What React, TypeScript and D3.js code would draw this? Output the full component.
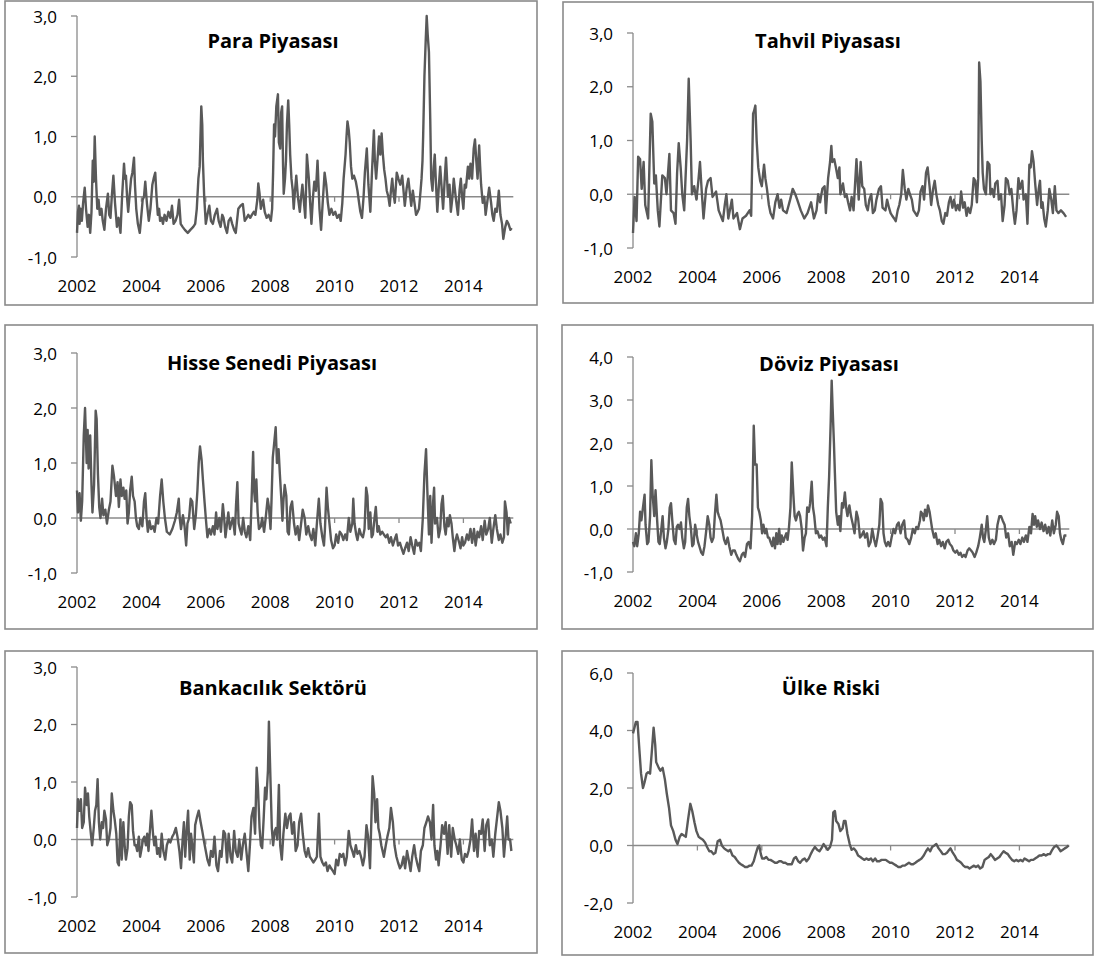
import React from 'react';
import * as d3 from 'd3';

type Pt = [number, number];

const yearTicks = [2002, 2004, 2006, 2008, 2010, 2012, 2014];

const paraPiyasasi: Pt[] = [[2002.00,-0.60],[2002.03,-0.25],[2002.06,-0.15],[2002.08,-0.45],[2002.11,-0.20],[2002.15,-0.40],[2002.19,-0.10],[2002.24,0.15],[2002.28,-0.20],[2002.33,-0.50],[2002.37,-0.30],[2002.41,-0.60],[2002.45,-0.25],[2002.49,0.60],[2002.52,0.25],[2002.55,1.00],[2002.59,0.30],[2002.63,-0.20],[2002.67,-0.05],[2002.71,-0.30],[2002.76,-0.20],[2002.80,-0.40],[2002.85,-0.55],[2002.90,-0.20],[2002.96,0.05],[2003.00,-0.30],[2003.04,-0.35],[2003.08,0.00],[2003.13,0.35],[2003.18,-0.10],[2003.24,-0.50],[2003.29,-0.35],[2003.35,-0.60],[2003.40,0.00],[2003.46,0.55],[2003.49,0.30],[2003.52,0.35],[2003.56,-0.05],[2003.59,-0.25],[2003.63,0.00],[2003.68,0.30],[2003.72,0.40],[2003.77,0.65],[2003.80,0.20],[2003.84,-0.20],[2003.89,-0.45],[2003.95,-0.60],[2004.00,-0.30],[2004.04,-0.05],[2004.08,0.00],[2004.12,0.25],[2004.17,-0.10],[2004.23,-0.40],[2004.28,-0.20],[2004.34,0.20],[2004.38,0.30],[2004.43,0.40],[2004.47,0.00],[2004.51,-0.30],[2004.55,-0.20],[2004.58,-0.40],[2004.63,-0.35],[2004.67,-0.45],[2004.72,-0.30],[2004.78,-0.40],[2004.84,-0.25],[2004.90,-0.35],[2004.95,-0.15],[2005.00,-0.45],[2005.06,-0.40],[2005.12,-0.30],[2005.17,-0.05],[2005.22,-0.45],[2005.28,-0.50],[2005.35,-0.55],[2005.44,-0.60],[2005.52,-0.55],[2005.61,-0.50],[2005.67,-0.45],[2005.72,-0.20],[2005.77,0.30],[2005.81,0.50],[2005.86,1.50],[2005.89,1.20],[2005.91,0.60],[2005.95,0.00],[2006.00,-0.45],[2006.05,-0.30],[2006.11,-0.15],[2006.16,-0.40],[2006.22,-0.45],[2006.28,-0.30],[2006.35,-0.20],[2006.40,-0.40],[2006.46,-0.50],[2006.51,-0.30],[2006.55,-0.35],[2006.60,-0.50],[2006.66,-0.60],[2006.71,-0.40],[2006.77,-0.35],[2006.82,-0.45],[2006.88,-0.55],[2006.93,-0.60],[2007.01,-0.20],[2007.08,-0.15],[2007.15,-0.12],[2007.21,-0.40],[2007.27,-0.35],[2007.32,-0.30],[2007.38,-0.35],[2007.43,-0.30],[2007.49,-0.25],[2007.54,-0.30],[2007.60,-0.05],[2007.63,0.22],[2007.67,0.05],[2007.71,-0.20],[2007.75,-0.10],[2007.78,-0.05],[2007.83,-0.25],[2007.89,-0.35],[2007.95,-0.30],[2008.02,-0.40],[2008.06,-0.20],[2008.09,0.40],[2008.12,1.20],[2008.15,1.00],[2008.19,1.50],[2008.24,1.70],[2008.27,0.90],[2008.31,0.80],[2008.34,1.40],[2008.37,1.50],[2008.40,0.50],[2008.42,0.05],[2008.46,0.30],[2008.49,0.60],[2008.52,1.20],[2008.56,1.60],[2008.59,1.20],[2008.62,0.70],[2008.66,0.30],[2008.70,0.10],[2008.73,-0.20],[2008.77,0.10],[2008.81,0.35],[2008.86,0.00],[2008.92,-0.25],[2008.96,0.00],[2009.00,0.20],[2009.05,-0.10],[2009.09,-0.35],[2009.14,0.70],[2009.17,0.50],[2009.20,0.30],[2009.24,-0.10],[2009.28,-0.45],[2009.33,0.00],[2009.37,0.25],[2009.42,0.10],[2009.47,0.60],[2009.53,-0.20],[2009.58,-0.55],[2009.63,-0.10],[2009.69,0.40],[2009.74,0.20],[2009.79,-0.10],[2009.84,-0.30],[2009.90,-0.20],[2009.96,-0.30],[2010.02,-0.25],[2010.08,-0.35],[2010.14,-0.30],[2010.19,-0.40],[2010.24,-0.10],[2010.28,0.30],[2010.34,0.70],[2010.37,1.00],[2010.40,1.25],[2010.44,1.10],[2010.47,0.90],[2010.51,0.50],[2010.55,0.30],[2010.60,0.35],[2010.66,0.25],[2010.71,0.10],[2010.76,-0.10],[2010.80,-0.25],[2010.85,-0.35],[2010.90,0.00],[2010.94,0.40],[2011.00,0.80],[2011.05,0.20],[2011.11,-0.25],[2011.16,0.40],[2011.22,1.10],[2011.25,0.60],[2011.29,0.30],[2011.33,0.60],[2011.38,1.00],[2011.42,0.70],[2011.46,1.05],[2011.50,0.70],[2011.54,0.45],[2011.58,0.30],[2011.62,0.10],[2011.67,0.00],[2011.71,-0.15],[2011.75,0.10],[2011.79,0.30],[2011.83,0.05],[2011.87,-0.10],[2011.93,0.40],[2011.98,0.30],[2012.04,0.20],[2012.10,0.35],[2012.14,0.10],[2012.18,-0.15],[2012.24,0.15],[2012.29,0.30],[2012.33,0.10],[2012.38,-0.15],[2012.43,0.10],[2012.48,-0.10],[2012.53,-0.30],[2012.58,-0.25],[2012.62,-0.20],[2012.67,0.10],[2012.70,0.30],[2012.73,0.60],[2012.75,1.00],[2012.79,2.00],[2012.83,2.60],[2012.86,3.00],[2012.89,2.70],[2012.93,2.40],[2012.97,1.30],[2013.00,0.30],[2013.04,0.10],[2013.08,0.50],[2013.11,0.70],[2013.15,0.20],[2013.19,-0.25],[2013.24,0.20],[2013.28,0.50],[2013.33,0.10],[2013.37,-0.20],[2013.42,0.30],[2013.46,0.65],[2013.52,0.00],[2013.57,0.20],[2013.61,-0.25],[2013.66,0.00],[2013.70,0.30],[2013.76,0.00],[2013.83,-0.30],[2013.88,0.10],[2013.92,0.30],[2013.96,0.00],[2014.00,-0.20],[2014.04,0.20],[2014.08,0.15],[2014.14,0.50],[2014.18,0.30],[2014.22,0.55],[2014.27,0.30],[2014.32,0.80],[2014.36,0.95],[2014.40,0.60],[2014.44,0.30],[2014.49,0.85],[2014.52,0.50],[2014.55,0.20],[2014.60,-0.10],[2014.65,0.00],[2014.69,-0.30],[2014.75,-0.05],[2014.80,0.15],[2014.86,-0.10],[2014.90,-0.30],[2014.94,-0.40],[2014.99,-0.20],[2015.04,-0.25],[2015.10,0.10],[2015.15,-0.30],[2015.20,-0.45],[2015.24,-0.70],[2015.30,-0.50],[2015.35,-0.40],[2015.40,-0.45],[2015.46,-0.55],[2015.50,-0.52]];

const tahvilPiyasasi: Pt[] = [[2002.00,-0.72],[2002.05,-0.05],[2002.11,-0.50],[2002.16,0.70],[2002.22,0.65],[2002.27,0.10],[2002.33,0.60],[2002.38,-0.20],[2002.47,-0.45],[2002.55,1.50],[2002.60,1.35],[2002.66,0.20],[2002.71,0.35],[2002.77,-0.30],[2002.82,-0.60],[2002.91,0.35],[2002.99,0.30],[2003.04,0.00],[2003.13,0.75],[2003.18,-0.30],[2003.26,-0.35],[2003.32,-0.55],[2003.37,0.40],[2003.42,0.95],[2003.48,0.50],[2003.53,0.00],[2003.59,-0.30],[2003.68,1.00],[2003.73,2.15],[2003.79,1.00],[2003.83,0.00],[2003.90,0.15],[2003.97,-0.10],[2004.03,0.25],[2004.08,0.60],[2004.14,0.00],[2004.19,-0.45],[2004.27,0.10],[2004.33,0.25],[2004.41,0.30],[2004.47,-0.05],[2004.58,0.05],[2004.66,-0.30],[2004.79,-0.50],[2004.85,-0.20],[2004.90,0.00],[2004.96,-0.45],[2005.07,-0.10],[2005.12,-0.45],[2005.23,-0.35],[2005.32,-0.65],[2005.40,-0.45],[2005.51,-0.40],[2005.62,-0.30],[2005.67,-0.40],[2005.73,1.50],[2005.76,1.55],[2005.80,1.65],[2005.84,1.00],[2005.89,0.50],[2005.95,0.25],[2006.00,0.15],[2006.07,0.55],[2006.11,0.30],[2006.16,0.10],[2006.22,-0.20],[2006.27,-0.35],[2006.35,-0.45],[2006.42,-0.15],[2006.49,0.00],[2006.55,-0.25],[2006.60,-0.10],[2006.66,-0.30],[2006.77,-0.35],[2006.88,-0.10],[2006.96,0.10],[2007.04,0.00],[2007.10,-0.10],[2007.21,-0.30],[2007.32,-0.45],[2007.42,-0.35],[2007.53,-0.15],[2007.62,-0.45],[2007.70,-0.30],[2007.75,0.00],[2007.81,-0.15],[2007.88,0.10],[2007.95,0.15],[2007.99,-0.35],[2008.06,0.30],[2008.12,0.60],[2008.16,0.90],[2008.19,0.60],[2008.25,0.65],[2008.30,0.50],[2008.36,0.30],[2008.41,0.50],[2008.44,0.00],[2008.52,0.20],[2008.58,-0.05],[2008.63,0.00],[2008.68,-0.15],[2008.74,-0.30],[2008.79,-0.05],[2008.85,-0.30],[2008.94,0.65],[2008.98,0.20],[2009.01,-0.10],[2009.07,0.60],[2009.12,0.15],[2009.18,0.10],[2009.23,-0.20],[2009.29,-0.30],[2009.34,-0.10],[2009.40,0.00],[2009.45,-0.35],[2009.51,-0.30],[2009.56,-0.10],[2009.64,0.10],[2009.70,0.15],[2009.75,-0.25],[2009.84,-0.30],[2009.89,-0.10],[2009.95,-0.25],[2010.00,-0.35],[2010.05,-0.40],[2010.11,-0.45],[2010.16,-0.50],[2010.22,-0.30],[2010.27,-0.20],[2010.33,0.00],[2010.38,0.45],[2010.44,0.10],[2010.49,-0.10],[2010.55,0.10],[2010.60,0.00],[2010.66,-0.10],[2010.71,-0.30],[2010.82,-0.40],[2010.88,-0.30],[2010.93,0.05],[2010.99,0.15],[2011.04,-0.10],[2011.10,0.40],[2011.15,0.50],[2011.21,0.15],[2011.26,-0.20],[2011.32,0.10],[2011.37,0.25],[2011.42,0.00],[2011.48,-0.20],[2011.53,-0.30],[2011.59,-0.50],[2011.64,-0.55],[2011.70,-0.35],[2011.75,-0.40],[2011.81,-0.15],[2011.86,-0.05],[2011.92,-0.25],[2011.97,-0.10],[2012.03,-0.30],[2012.08,-0.20],[2012.14,-0.30],[2012.19,0.05],[2012.25,-0.25],[2012.30,-0.15],[2012.36,-0.40],[2012.41,-0.25],[2012.47,-0.35],[2012.52,-0.20],[2012.58,0.30],[2012.63,0.25],[2012.68,-0.15],[2012.72,0.30],[2012.75,2.45],[2012.79,2.10],[2012.83,1.00],[2012.86,0.40],[2012.90,0.10],[2012.96,0.00],[2013.01,0.60],[2013.07,0.55],[2013.10,0.00],[2013.15,0.10],[2013.21,-0.05],[2013.25,0.20],[2013.32,0.25],[2013.36,-0.10],[2013.43,0.00],[2013.48,-0.50],[2013.54,-0.20],[2013.58,0.30],[2013.64,0.25],[2013.70,0.00],[2013.75,0.10],[2013.81,-0.30],[2013.86,-0.55],[2013.91,-0.30],[2013.97,0.30],[2014.02,0.10],[2014.09,0.25],[2014.13,-0.10],[2014.20,0.00],[2014.25,-0.55],[2014.31,0.55],[2014.35,0.50],[2014.39,0.80],[2014.44,0.60],[2014.49,0.20],[2014.55,-0.20],[2014.60,0.10],[2014.64,0.25],[2014.68,-0.25],[2014.72,-0.15],[2014.77,-0.45],[2014.82,-0.60],[2014.88,-0.30],[2014.93,0.10],[2014.99,-0.10],[2015.04,-0.35],[2015.10,0.15],[2015.15,-0.30],[2015.21,-0.35],[2015.29,-0.30],[2015.37,-0.35],[2015.45,-0.42]];

const hisseSenedi: Pt[] = [[2002.00,0.50],[2002.03,0.10],[2002.08,0.45],[2002.12,-0.05],[2002.16,0.30],[2002.21,1.50],[2002.25,2.00],[2002.30,1.00],[2002.33,1.60],[2002.36,0.90],[2002.41,1.50],[2002.45,0.60],[2002.48,0.10],[2002.53,0.60],[2002.56,1.40],[2002.58,1.95],[2002.61,1.80],[2002.65,0.80],[2002.69,0.20],[2002.73,0.00],[2002.78,0.35],[2002.82,0.05],[2002.88,0.15],[2002.93,-0.10],[2002.99,0.15],[2003.04,0.30],[2003.10,0.95],[2003.15,0.75],[2003.21,0.40],[2003.26,0.65],[2003.30,0.20],[2003.35,0.70],[2003.39,0.40],[2003.44,0.55],[2003.48,0.35],[2003.53,0.50],[2003.57,-0.10],[2003.61,0.10],[2003.65,0.50],[2003.70,0.75],[2003.74,0.40],[2003.79,0.30],[2003.83,0.00],[2003.87,-0.15],[2003.92,-0.20],[2003.97,0.00],[2004.03,-0.15],[2004.08,0.30],[2004.12,0.45],[2004.16,0.00],[2004.20,-0.25],[2004.25,-0.05],[2004.30,-0.20],[2004.36,-0.15],[2004.41,-0.25],[2004.47,0.00],[2004.52,-0.10],[2004.58,0.40],[2004.63,0.70],[2004.68,0.30],[2004.73,0.00],[2004.79,-0.25],[2004.88,-0.30],[2004.96,-0.20],[2005.04,-0.05],[2005.10,0.10],[2005.16,0.35],[2005.19,0.00],[2005.23,-0.20],[2005.29,0.05],[2005.34,-0.15],[2005.39,-0.50],[2005.43,-0.10],[2005.48,0.00],[2005.53,0.35],[2005.58,0.30],[2005.64,-0.20],[2005.69,0.05],[2005.74,0.50],[2005.78,1.00],[2005.82,1.30],[2005.87,1.05],[2005.91,0.70],[2005.96,0.30],[2006.00,0.00],[2006.05,-0.35],[2006.11,-0.20],[2006.16,-0.30],[2006.22,-0.15],[2006.27,-0.30],[2006.32,0.10],[2006.36,-0.20],[2006.42,0.00],[2006.47,-0.25],[2006.53,0.25],[2006.57,0.00],[2006.61,-0.35],[2006.66,-0.10],[2006.70,0.10],[2006.75,-0.20],[2006.79,-0.10],[2006.84,0.00],[2006.90,-0.30],[2006.94,0.25],[2006.98,0.65],[2007.02,-0.10],[2007.06,-0.20],[2007.11,-0.30],[2007.16,0.00],[2007.21,-0.25],[2007.26,-0.35],[2007.32,-0.15],[2007.38,-0.40],[2007.42,0.30],[2007.47,1.20],[2007.50,0.50],[2007.53,0.30],[2007.57,0.70],[2007.61,0.10],[2007.65,-0.20],[2007.71,-0.15],[2007.75,0.00],[2007.81,-0.25],[2007.86,0.00],[2007.92,0.35],[2007.96,0.20],[2008.01,-0.20],[2008.04,0.30],[2008.08,1.10],[2008.13,1.40],[2008.17,1.65],[2008.21,1.00],[2008.26,1.25],[2008.30,0.80],[2008.35,0.30],[2008.38,-0.05],[2008.41,0.30],[2008.45,0.60],[2008.50,0.40],[2008.54,-0.25],[2008.58,-0.30],[2008.63,0.20],[2008.68,0.30],[2008.74,-0.10],[2008.79,-0.30],[2008.85,-0.15],[2008.90,-0.40],[2008.96,-0.10],[2009.01,0.15],[2009.07,0.00],[2009.12,-0.30],[2009.18,-0.15],[2009.23,-0.30],[2009.29,-0.40],[2009.34,-0.20],[2009.40,-0.50],[2009.45,-0.10],[2009.51,0.35],[2009.56,-0.10],[2009.62,-0.35],[2009.67,-0.50],[2009.70,-0.20],[2009.75,0.55],[2009.79,0.20],[2009.84,-0.10],[2009.89,-0.40],[2009.95,-0.55],[2010.00,-0.50],[2010.05,-0.30],[2010.11,-0.45],[2010.16,-0.25],[2010.22,-0.30],[2010.27,-0.40],[2010.33,-0.30],[2010.38,-0.40],[2010.44,0.00],[2010.49,-0.25],[2010.55,-0.10],[2010.58,0.35],[2010.62,-0.10],[2010.67,-0.30],[2010.71,-0.40],[2010.77,-0.20],[2010.82,-0.30],[2010.88,-0.35],[2010.93,-0.20],[2010.98,0.55],[2011.02,0.40],[2011.06,-0.20],[2011.11,0.10],[2011.15,-0.35],[2011.19,-0.30],[2011.24,0.00],[2011.28,0.20],[2011.33,-0.25],[2011.37,-0.15],[2011.42,-0.30],[2011.48,-0.25],[2011.53,-0.30],[2011.59,-0.35],[2011.64,-0.30],[2011.70,-0.45],[2011.75,-0.35],[2011.81,-0.50],[2011.86,-0.40],[2011.92,-0.30],[2011.97,-0.50],[2012.03,-0.45],[2012.08,-0.55],[2012.14,-0.65],[2012.19,-0.55],[2012.25,-0.45],[2012.30,-0.60],[2012.36,-0.35],[2012.41,-0.50],[2012.47,-0.65],[2012.52,-0.40],[2012.58,-0.50],[2012.63,-0.45],[2012.68,-0.60],[2012.74,0.00],[2012.79,0.80],[2012.84,1.25],[2012.88,0.50],[2012.93,-0.30],[2012.97,0.40],[2013.01,-0.45],[2013.06,0.30],[2013.09,0.55],[2013.12,-0.10],[2013.18,0.00],[2013.23,-0.35],[2013.28,-0.20],[2013.32,0.25],[2013.36,0.40],[2013.41,-0.15],[2013.45,-0.30],[2013.50,0.00],[2013.54,-0.15],[2013.58,0.05],[2013.63,-0.10],[2013.67,-0.35],[2013.72,-0.60],[2013.76,-0.40],[2013.80,-0.30],[2013.87,-0.45],[2013.91,-0.55],[2013.96,-0.35],[2014.00,-0.50],[2014.05,-0.45],[2014.11,-0.30],[2014.16,-0.40],[2014.22,-0.20],[2014.27,-0.45],[2014.33,-0.20],[2014.38,-0.50],[2014.44,-0.25],[2014.49,-0.35],[2014.55,-0.15],[2014.60,-0.40],[2014.66,-0.05],[2014.71,-0.30],[2014.77,-0.20],[2014.82,0.00],[2014.88,-0.45],[2014.93,-0.20],[2014.99,0.05],[2015.04,-0.20],[2015.10,-0.40],[2015.15,-0.30],[2015.21,-0.45],[2015.26,-0.35],[2015.29,0.30],[2015.34,0.10],[2015.38,-0.30],[2015.42,0.00],[2015.47,-0.10]];

const dovizPiyasasi: Pt[] = [[2002.00,-0.30],[2002.04,-0.40],[2002.09,-0.10],[2002.13,-0.40],[2002.18,-0.10],[2002.22,0.40],[2002.26,0.20],[2002.31,0.50],[2002.36,0.80],[2002.39,0.10],[2002.44,-0.35],[2002.48,-0.30],[2002.53,0.30],[2002.57,1.60],[2002.61,0.80],[2002.66,0.30],[2002.70,0.90],[2002.75,0.20],[2002.79,-0.30],[2002.83,-0.35],[2002.88,0.00],[2002.92,0.30],[2002.96,-0.20],[2003.01,-0.45],[2003.05,-0.30],[2003.10,0.00],[2003.14,0.50],[2003.18,0.60],[2003.23,0.10],[2003.27,-0.25],[2003.32,-0.35],[2003.36,0.05],[2003.40,0.10],[2003.45,0.00],[2003.49,0.15],[2003.53,-0.20],[2003.58,-0.45],[2003.62,-0.30],[2003.67,0.50],[2003.71,0.70],[2003.75,0.30],[2003.80,0.00],[2003.84,-0.40],[2003.88,-0.35],[2003.93,0.10],[2003.97,-0.10],[2004.02,-0.30],[2004.06,-0.40],[2004.12,-0.55],[2004.17,-0.60],[2004.22,-0.40],[2004.28,0.00],[2004.32,0.30],[2004.37,0.10],[2004.41,-0.20],[2004.45,-0.30],[2004.50,-0.20],[2004.54,0.30],[2004.59,0.80],[2004.63,0.40],[2004.67,0.30],[2004.72,0.20],[2004.77,0.00],[2004.83,-0.25],[2004.88,-0.35],[2004.94,-0.20],[2004.99,-0.40],[2005.05,-0.60],[2005.10,-0.50],[2005.16,-0.50],[2005.21,-0.60],[2005.27,-0.70],[2005.32,-0.75],[2005.38,-0.60],[2005.43,-0.55],[2005.48,-0.65],[2005.54,-0.35],[2005.59,-0.30],[2005.65,-0.45],[2005.70,0.30],[2005.75,2.40],[2005.79,1.50],[2005.84,1.50],[2005.88,0.50],[2005.92,0.40],[2005.97,0.20],[2006.01,-0.10],[2006.05,0.10],[2006.10,-0.10],[2006.14,0.00],[2006.19,-0.20],[2006.23,-0.20],[2006.27,-0.30],[2006.32,-0.40],[2006.36,-0.20],[2006.41,-0.45],[2006.45,-0.10],[2006.49,-0.35],[2006.54,0.00],[2006.58,-0.35],[2006.62,-0.15],[2006.67,-0.30],[2006.71,-0.20],[2006.76,-0.10],[2006.80,-0.25],[2006.84,0.00],[2006.89,0.50],[2006.93,1.55],[2006.98,0.80],[2007.02,0.30],[2007.06,0.20],[2007.11,0.35],[2007.15,0.40],[2007.19,0.30],[2007.24,0.00],[2007.28,-0.50],[2007.33,-0.20],[2007.37,-0.10],[2007.41,0.50],[2007.46,0.40],[2007.50,0.60],[2007.55,1.10],[2007.59,0.50],[2007.63,0.30],[2007.68,-0.10],[2007.73,-0.05],[2007.79,-0.20],[2007.84,-0.15],[2007.90,-0.25],[2007.95,-0.20],[2008.01,-0.40],[2008.05,0.50],[2008.09,1.20],[2008.14,2.50],[2008.17,3.45],[2008.20,2.80],[2008.24,2.00],[2008.27,1.30],[2008.31,0.40],[2008.36,0.10],[2008.40,0.30],[2008.44,-0.05],[2008.49,0.60],[2008.53,0.50],[2008.58,0.85],[2008.62,0.50],[2008.66,0.30],[2008.72,0.55],[2008.77,0.30],[2008.83,0.10],[2008.88,-0.10],[2008.94,0.40],[2008.99,0.25],[2009.05,-0.20],[2009.10,-0.15],[2009.16,-0.05],[2009.21,-0.20],[2009.27,-0.10],[2009.32,-0.40],[2009.38,-0.30],[2009.43,0.00],[2009.49,-0.25],[2009.54,-0.40],[2009.59,-0.20],[2009.65,0.10],[2009.69,0.70],[2009.74,0.60],[2009.78,-0.10],[2009.82,-0.30],[2009.87,-0.40],[2009.92,-0.30],[2009.98,-0.40],[2010.03,-0.20],[2010.09,0.00],[2010.14,-0.10],[2010.20,0.10],[2010.25,0.15],[2010.31,-0.10],[2010.36,0.10],[2010.42,0.20],[2010.47,-0.20],[2010.53,-0.25],[2010.58,-0.35],[2010.64,-0.20],[2010.69,0.00],[2010.75,-0.10],[2010.80,0.05],[2010.85,0.00],[2010.91,0.20],[2010.94,0.40],[2010.99,0.35],[2011.03,0.20],[2011.07,0.45],[2011.12,0.30],[2011.16,0.55],[2011.21,0.40],[2011.25,0.20],[2011.29,0.00],[2011.35,-0.20],[2011.40,-0.10],[2011.46,-0.35],[2011.51,-0.25],[2011.57,-0.40],[2011.62,-0.30],[2011.68,-0.45],[2011.73,-0.30],[2011.79,-0.25],[2011.84,-0.35],[2011.90,-0.40],[2011.95,-0.50],[2012.01,-0.55],[2012.06,-0.50],[2012.12,-0.60],[2012.17,-0.55],[2012.22,-0.65],[2012.28,-0.60],[2012.33,-0.65],[2012.39,-0.50],[2012.44,-0.45],[2012.50,-0.50],[2012.55,-0.55],[2012.61,-0.65],[2012.66,-0.55],[2012.72,-0.40],[2012.77,-0.20],[2012.83,0.10],[2012.87,-0.20],[2012.91,-0.30],[2012.96,0.00],[2013.00,0.30],[2013.05,-0.20],[2013.10,-0.35],[2013.16,-0.25],[2013.21,-0.35],[2013.27,-0.25],[2013.32,0.10],[2013.38,0.30],[2013.43,0.30],[2013.48,0.20],[2013.54,0.10],[2013.59,-0.20],[2013.65,-0.10],[2013.70,-0.40],[2013.76,-0.30],[2013.81,-0.60],[2013.87,-0.30],[2013.92,-0.35],[2013.98,-0.25],[2014.03,-0.35],[2014.09,-0.20],[2014.14,-0.30],[2014.20,-0.15],[2014.25,-0.30],[2014.31,0.05],[2014.36,-0.10],[2014.41,0.35],[2014.45,0.10],[2014.49,0.30],[2014.54,0.05],[2014.58,0.20],[2014.64,0.00],[2014.69,0.15],[2014.75,-0.05],[2014.80,0.10],[2014.86,-0.10],[2014.91,0.05],[2014.96,-0.15],[2015.02,0.20],[2015.07,-0.10],[2015.13,0.10],[2015.17,0.40],[2015.22,0.30],[2015.26,-0.10],[2015.30,-0.25],[2015.35,-0.35],[2015.40,-0.15],[2015.46,-0.15]];

const bankacilikSektoru: Pt[] = [[2002.00,0.20],[2002.03,0.70],[2002.08,0.50],[2002.12,0.70],[2002.16,0.20],[2002.21,0.30],[2002.25,0.90],[2002.30,0.60],[2002.34,0.80],[2002.38,0.40],[2002.43,0.10],[2002.47,-0.10],[2002.52,0.20],[2002.56,0.50],[2002.60,0.60],[2002.64,1.05],[2002.68,0.30],[2002.72,0.00],[2002.77,0.30],[2002.81,0.20],[2002.85,0.50],[2002.90,0.35],[2002.94,-0.10],[2002.99,0.00],[2003.04,0.20],[2003.08,0.80],[2003.13,0.50],[2003.17,0.35],[2003.22,0.10],[2003.26,-0.40],[2003.30,-0.45],[2003.35,0.35],[2003.39,-0.35],[2003.44,0.30],[2003.48,-0.10],[2003.52,-0.35],[2003.57,-0.15],[2003.61,0.40],[2003.65,0.65],[2003.70,0.60],[2003.74,0.15],[2003.79,-0.10],[2003.83,-0.10],[2003.87,-0.20],[2003.92,0.05],[2003.96,-0.30],[2004.01,-0.15],[2004.05,0.00],[2004.09,0.05],[2004.14,-0.10],[2004.18,0.10],[2004.22,-0.20],[2004.27,0.20],[2004.31,0.50],[2004.36,0.10],[2004.40,-0.10],[2004.44,0.05],[2004.49,-0.25],[2004.53,-0.15],[2004.58,-0.30],[2004.63,0.10],[2004.68,-0.20],[2004.74,-0.35],[2004.79,-0.10],[2004.85,0.00],[2004.90,-0.05],[2004.96,0.05],[2005.01,0.10],[2005.07,0.20],[2005.12,0.05],[2005.18,-0.20],[2005.23,-0.50],[2005.28,0.00],[2005.32,0.30],[2005.36,-0.30],[2005.41,0.20],[2005.45,0.50],[2005.50,-0.35],[2005.54,0.10],[2005.58,-0.10],[2005.63,-0.40],[2005.67,0.25],[2005.73,0.40],[2005.78,0.50],[2005.84,0.30],[2005.89,0.15],[2005.95,-0.05],[2006.00,-0.20],[2006.05,-0.35],[2006.11,-0.45],[2006.16,-0.20],[2006.22,-0.30],[2006.27,0.05],[2006.33,-0.45],[2006.38,-0.55],[2006.44,-0.20],[2006.49,-0.30],[2006.55,0.15],[2006.60,0.10],[2006.66,-0.40],[2006.71,0.10],[2006.77,-0.30],[2006.82,-0.40],[2006.88,0.15],[2006.93,-0.20],[2006.99,-0.30],[2007.04,0.00],[2007.10,-0.35],[2007.15,-0.10],[2007.21,0.10],[2007.26,-0.20],[2007.32,-0.55],[2007.37,-0.10],[2007.42,0.40],[2007.48,0.55],[2007.53,0.10],[2007.58,1.25],[2007.62,0.90],[2007.67,0.20],[2007.71,-0.10],[2007.75,-0.15],[2007.80,0.40],[2007.84,0.90],[2007.88,0.70],[2007.93,1.20],[2007.96,2.05],[2008.01,1.00],[2008.05,0.20],[2008.09,-0.10],[2008.14,0.15],[2008.18,0.20],[2008.22,0.00],[2008.27,0.95],[2008.31,-0.10],[2008.36,-0.35],[2008.41,0.10],[2008.47,0.45],[2008.52,0.20],[2008.58,0.40],[2008.63,0.45],[2008.68,0.10],[2008.74,0.30],[2008.79,-0.20],[2008.85,-0.10],[2008.90,0.30],[2008.96,0.45],[2009.01,0.10],[2009.07,-0.20],[2009.12,-0.30],[2009.18,-0.15],[2009.23,-0.30],[2009.29,-0.35],[2009.34,-0.40],[2009.40,-0.35],[2009.45,-0.30],[2009.51,0.45],[2009.56,-0.30],[2009.62,-0.40],[2009.67,-0.45],[2009.73,-0.40],[2009.78,-0.55],[2009.84,-0.45],[2009.89,-0.50],[2009.95,-0.55],[2010.00,-0.60],[2010.05,-0.35],[2010.11,-0.45],[2010.16,-0.25],[2010.22,-0.30],[2010.27,-0.25],[2010.33,-0.45],[2010.38,-0.30],[2010.44,0.15],[2010.49,-0.10],[2010.55,-0.20],[2010.60,-0.30],[2010.66,-0.10],[2010.71,-0.25],[2010.77,-0.20],[2010.82,-0.30],[2010.88,-0.45],[2010.93,-0.30],[2010.99,0.25],[2011.04,0.05],[2011.10,-0.50],[2011.14,0.30],[2011.18,1.10],[2011.23,0.80],[2011.27,0.30],[2011.32,0.70],[2011.36,0.20],[2011.40,0.10],[2011.45,-0.10],[2011.49,-0.20],[2011.53,-0.30],[2011.59,-0.10],[2011.64,0.05],[2011.70,0.20],[2011.75,0.55],[2011.81,0.30],[2011.86,-0.10],[2011.92,-0.30],[2011.97,-0.40],[2012.03,-0.50],[2012.08,-0.45],[2012.14,-0.30],[2012.19,-0.50],[2012.25,-0.20],[2012.30,-0.35],[2012.36,-0.55],[2012.41,-0.30],[2012.47,-0.10],[2012.52,-0.30],[2012.58,-0.45],[2012.63,-0.55],[2012.68,-0.20],[2012.74,-0.10],[2012.79,0.20],[2012.85,0.30],[2012.90,0.40],[2012.96,0.30],[2013.01,0.00],[2013.06,0.60],[2013.10,-0.10],[2013.15,-0.35],[2013.19,-0.20],[2013.23,-0.45],[2013.29,-0.10],[2013.34,0.25],[2013.40,0.10],[2013.45,0.30],[2013.51,-0.25],[2013.56,0.25],[2013.62,-0.30],[2013.67,0.20],[2013.73,0.00],[2013.78,-0.10],[2013.84,-0.25],[2013.89,0.00],[2013.95,-0.35],[2014.00,-0.40],[2014.05,-0.25],[2014.11,-0.30],[2014.16,-0.20],[2014.22,0.00],[2014.27,0.35],[2014.33,-0.20],[2014.38,0.10],[2014.44,-0.30],[2014.49,0.15],[2014.55,0.10],[2014.60,0.35],[2014.66,-0.20],[2014.71,0.25],[2014.77,0.35],[2014.82,-0.10],[2014.88,0.00],[2014.93,-0.30],[2014.99,0.10],[2015.04,0.35],[2015.10,0.65],[2015.15,0.50],[2015.21,0.20],[2015.26,-0.30],[2015.32,0.10],[2015.36,0.40],[2015.40,0.00],[2015.45,0.00],[2015.49,-0.20]];

const ulkeRiski: Pt[] = [[2002.00,3.90],[2002.09,4.30],[2002.14,4.30],[2002.20,3.30],[2002.25,2.50],[2002.31,2.00],[2002.36,2.20],[2002.42,2.50],[2002.47,2.55],[2002.53,2.50],[2002.58,3.20],[2002.64,4.10],[2002.69,3.50],[2002.72,2.90],[2002.80,2.70],[2002.85,2.60],[2002.92,2.70],[2002.99,2.30],[2003.05,1.80],[2003.12,1.30],[2003.18,0.70],[2003.25,0.50],[2003.32,0.20],[2003.38,0.05],[2003.45,0.30],[2003.51,0.40],[2003.58,0.35],[2003.64,0.30],[2003.71,0.90],[2003.78,1.45],[2003.84,1.20],[2003.91,0.80],[2003.97,0.50],[2004.04,0.30],[2004.10,0.25],[2004.17,0.20],[2004.24,0.10],[2004.30,-0.05],[2004.37,-0.20],[2004.43,-0.20],[2004.50,-0.30],[2004.56,-0.25],[2004.63,0.15],[2004.70,0.20],[2004.76,0.00],[2004.83,-0.10],[2004.89,-0.15],[2004.96,-0.20],[2005.02,-0.15],[2005.09,-0.35],[2005.16,-0.40],[2005.22,-0.50],[2005.29,-0.60],[2005.35,-0.65],[2005.42,-0.70],[2005.48,-0.75],[2005.55,-0.75],[2005.62,-0.70],[2005.68,-0.70],[2005.75,-0.55],[2005.81,-0.30],[2005.88,-0.05],[2005.92,0.00],[2005.97,-0.30],[2006.01,-0.45],[2006.08,-0.45],[2006.14,-0.40],[2006.21,-0.50],[2006.27,-0.50],[2006.34,-0.55],[2006.41,-0.60],[2006.47,-0.60],[2006.54,-0.55],[2006.60,-0.55],[2006.67,-0.60],[2006.73,-0.60],[2006.80,-0.65],[2006.87,-0.65],[2006.93,-0.65],[2007.00,-0.45],[2007.06,-0.40],[2007.13,-0.55],[2007.19,-0.60],[2007.26,-0.50],[2007.33,-0.45],[2007.39,-0.55],[2007.46,-0.45],[2007.52,-0.30],[2007.59,-0.15],[2007.65,-0.05],[2007.72,-0.15],[2007.79,-0.20],[2007.85,-0.10],[2007.92,0.05],[2007.98,-0.05],[2008.05,-0.15],[2008.12,-0.05],[2008.18,0.20],[2008.22,1.15],[2008.27,1.20],[2008.31,0.85],[2008.38,0.75],[2008.44,0.50],[2008.51,0.60],[2008.55,0.85],[2008.60,0.85],[2008.66,0.40],[2008.73,0.05],[2008.79,-0.15],[2008.86,-0.10],[2008.93,-0.20],[2008.99,-0.35],[2009.06,-0.40],[2009.12,-0.45],[2009.19,-0.50],[2009.25,-0.45],[2009.32,-0.50],[2009.39,-0.45],[2009.45,-0.55],[2009.52,-0.45],[2009.58,-0.55],[2009.65,-0.55],[2009.72,-0.50],[2009.78,-0.50],[2009.85,-0.50],[2009.91,-0.55],[2009.98,-0.60],[2010.04,-0.60],[2010.11,-0.65],[2010.18,-0.70],[2010.24,-0.75],[2010.31,-0.75],[2010.37,-0.70],[2010.44,-0.70],[2010.50,-0.65],[2010.57,-0.60],[2010.64,-0.65],[2010.70,-0.65],[2010.77,-0.60],[2010.83,-0.55],[2010.90,-0.50],[2010.96,-0.45],[2011.03,-0.35],[2011.10,-0.20],[2011.16,-0.10],[2011.23,-0.20],[2011.29,-0.05],[2011.36,0.00],[2011.42,0.05],[2011.49,-0.10],[2011.56,-0.20],[2011.62,-0.30],[2011.69,-0.30],[2011.75,-0.25],[2011.82,-0.15],[2011.86,-0.10],[2011.93,-0.25],[2011.99,-0.35],[2012.06,-0.50],[2012.13,-0.55],[2012.19,-0.60],[2012.26,-0.70],[2012.32,-0.75],[2012.39,-0.75],[2012.45,-0.80],[2012.52,-0.75],[2012.59,-0.70],[2012.65,-0.75],[2012.72,-0.70],[2012.78,-0.80],[2012.85,-0.75],[2012.92,-0.50],[2012.98,-0.45],[2013.05,-0.40],[2013.11,-0.30],[2013.18,-0.40],[2013.24,-0.50],[2013.31,-0.45],[2013.38,-0.40],[2013.44,-0.30],[2013.51,-0.20],[2013.57,-0.25],[2013.64,-0.30],[2013.70,-0.40],[2013.77,-0.50],[2013.84,-0.55],[2013.90,-0.50],[2013.97,-0.55],[2014.03,-0.50],[2014.10,-0.55],[2014.16,-0.45],[2014.23,-0.50],[2014.30,-0.55],[2014.36,-0.50],[2014.43,-0.50],[2014.49,-0.45],[2014.56,-0.40],[2014.62,-0.35],[2014.69,-0.35],[2014.76,-0.30],[2014.82,-0.35],[2014.89,-0.30],[2014.95,-0.30],[2015.02,-0.15],[2015.08,-0.05],[2015.15,0.00],[2015.22,-0.10],[2015.28,-0.20],[2015.35,-0.15],[2015.41,-0.10],[2015.48,-0.05],[2015.53,0.00]];

const ticksA = [-1, 0, 1, 2, 3];
const ticksB = [-1, 0, 1, 2, 3, 4];
const ticksC = [-2, 0, 2, 4, 6];

type Panel = {
  title: string;
  data: Pt[];
  ticks: number[];
  box: [number, number, number, number];
  x0: number;
  yTopPx: number;
  yBotPx: number;
  titleX: number;
  titleY: number;
};

const panels: Panel[] = [
  { title: 'Para Piyasası', data: paraPiyasasi, ticks: ticksA, box: [5, 1, 532, 304], x0: 77, yTopPx: 16, yBotPx: 257, titleX: 273, titleY: 40 },
  { title: 'Tahvil Piyasası', data: tahvilPiyasasi, ticks: ticksA, box: [563, 2, 530, 301], x0: 633, yTopPx: 33, yBotPx: 248, titleX: 828, titleY: 40 },
  { title: 'Hisse Senedi Piyasası', data: hisseSenedi, ticks: ticksA, box: [5, 325, 532, 304], x0: 77, yTopPx: 353, yBotPx: 573, titleX: 272, titleY: 362 },
  { title: 'Döviz Piyasası', data: dovizPiyasasi, ticks: ticksB, box: [562, 325, 531, 304], x0: 633, yTopPx: 357, yBotPx: 572, titleX: 829, titleY: 363 },
  { title: 'Bankacılık Sektörü', data: bankacilikSektoru, ticks: ticksA, box: [5, 651, 532, 302], x0: 77, yTopPx: 667, yBotPx: 897, titleX: 273, titleY: 687 },
  { title: 'Ülke Riski', data: ulkeRiski, ticks: ticksC, box: [562, 651, 531, 304], x0: 633, yTopPx: 673, yBotPx: 903, titleX: 831, titleY: 687 },
];

const X_END = 2015.55;
const PX_PER_YEAR = 32.2;
const AXIS = '#8a8a8a';
const LINE = '#595959';
const FONT = "'Open Sans', 'Noto Sans', sans-serif";

const fmt = (v: number) => v.toFixed(1).replace('.', ',');

function ChartPanel({ p }: { p: Panel }) {
  const x = d3.scaleLinear().domain([2002, X_END]).range([p.x0, p.x0 + (X_END - 2002) * PX_PER_YEAR]);
  const yMin = p.ticks[0];
  const yMax = p.ticks[p.ticks.length - 1];
  const y = d3.scaleLinear().domain([yMin, yMax]).range([p.yBotPx, p.yTopPx]);
  const line = d3.line<Pt>().x(d => x(d[0])).y(d => y(d[1]));
  const [bx, by, bw, bh] = p.box;
  const y0 = y(0);
  return (
    <g>
      <rect x={bx} y={by} width={bw} height={bh} fill="#fff" stroke={AXIS} strokeWidth={1.6} />
      <line x1={p.x0} x2={p.x0} y1={p.yTopPx} y2={p.yBotPx} stroke={AXIS} strokeWidth={1.3} />
      {p.ticks.map(t => (
        <g key={t}>
          <line x1={p.x0 - 6} x2={p.x0} y1={y(t)} y2={y(t)} stroke={AXIS} strokeWidth={1.3} />
          <text x={p.x0 - 20} y={y(t)} textAnchor="end" dominantBaseline="central" fontFamily={FONT} fontSize={17} fill="#000">
            {fmt(t)}
          </text>
        </g>
      ))}
      <line x1={p.x0} x2={x(X_END)} y1={y0} y2={y0} stroke={AXIS} strokeWidth={1.3} />
      {yearTicks.map(yr => (
        <g key={yr}>
          {yr > 2002 && <line x1={x(yr)} x2={x(yr)} y1={y0} y2={y0 + 5} stroke={AXIS} strokeWidth={1.3} />}
          <text x={x(yr)} y={p.yBotPx + 28} textAnchor="middle" dominantBaseline="central" fontFamily={FONT} fontSize={17} fill="#000">
            {yr}
          </text>
        </g>
      ))}
      <path d={line(p.data) || ''} fill="none" stroke={LINE} strokeWidth={2.4} strokeLinejoin="round" />
      <text x={p.titleX} y={p.titleY} textAnchor="middle" dominantBaseline="central" fontFamily={FONT} fontWeight={700} fontSize={20} fill="#000">
        {p.title}
      </text>
    </g>
  );
}

export default function App() {
  return (
    <svg width={1102} height={957} style={{ position: 'absolute', left: 0, top: 0, background: '#fff' }}>
      <rect x={0} y={0} width={1102} height={957} fill="#fff" />
      {panels.map(p => (
        <ChartPanel key={p.title} p={p} />
      ))}
    </svg>
  );
}
